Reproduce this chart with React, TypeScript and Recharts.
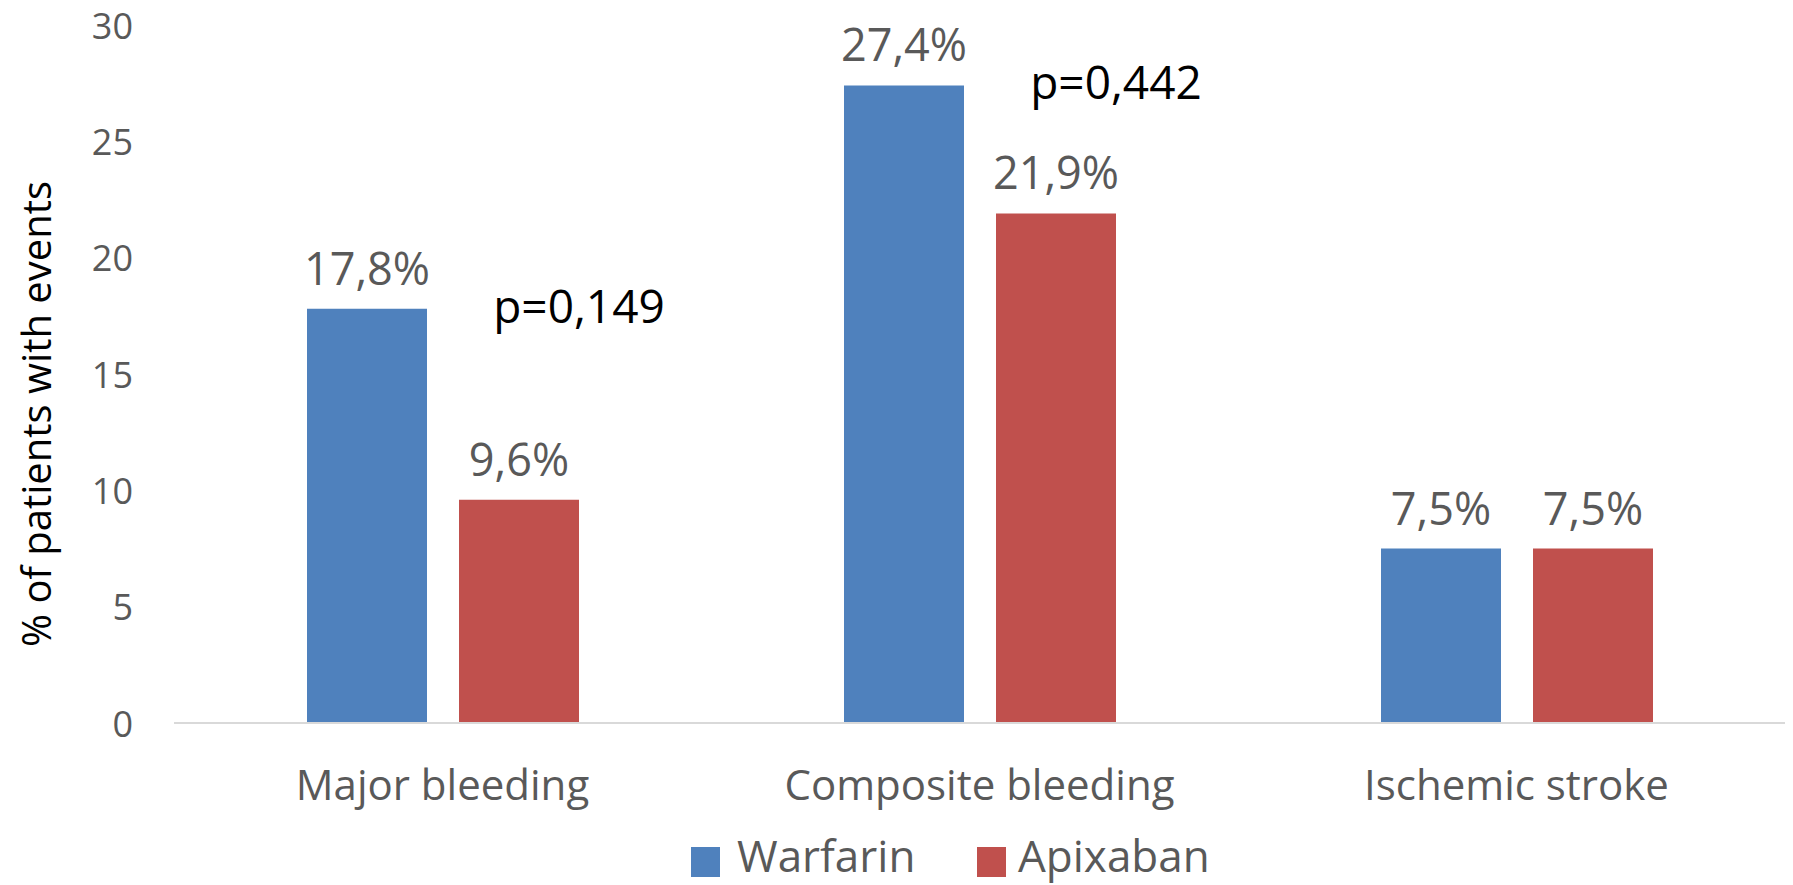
import React from 'react';
import { BarChart, Bar, XAxis, YAxis, Legend, LabelList } from 'recharts';

const categories = ['Major bleeding', 'Composite bleeding', 'Ischemic stroke'];
const warfarin = [17.8, 27.4, 7.5];
const apixaban = [9.6, 21.9, 7.5];
const pValues = ['p=0,149', 'p=0,442', ''];
const yTicks = [0, 5, 10, 15, 20, 25, 30];

const seriesNames = ['Warfarin', 'Apixaban'];
const colors = ['#4f81bd', '#c0504d'];

const data = categories.map((name, i) => ({
  name,
  warfarin: warfarin[i],
  apixaban: apixaban[i],
  p: pValues[i],
}));

const FONT = "'Open Sans', sans-serif";
const GRAY = '#595959';
const BAR_GAP = 32;

const fmt = (v: number) => v.toFixed(1).replace('.', ',') + '%';

const ValueLabel = (props: any) => {
  const { x, y, width, value } = props;
  return (
    <text
      x={x + width / 2}
      y={y - 24}
      textAnchor="middle"
      fontFamily={FONT}
      fontSize={45}
      fill={GRAY}
    >
      {fmt(Number(value))}
    </text>
  );
};

const PLabel = (props: any) => {
  const { x, y, width, value } = props;
  if (!value) return null;
  return (
    <text
      x={x + 2 * width + BAR_GAP}
      y={y + 14}
      textAnchor="middle"
      fontFamily={FONT}
      fontSize={46}
      fill="#000000"
    >
      {value}
    </text>
  );
};

const YTick = (props: any) => {
  const { x, y, payload } = props;
  return (
    <text x={x} y={y} dy="0.38em" textAnchor="end" fontFamily={FONT} fontSize={36} fill={GRAY}>
      {payload.value}
    </text>
  );
};

const XTick = (props: any) => {
  const { x, y, payload } = props;
  return (
    <text x={x} y={y + 77} textAnchor="middle" fontFamily={FONT} fontSize={42} fill={GRAY}>
      {payload.value}
    </text>
  );
};

const YTitle = () => (
  <text
    x={35}
    y={414}
    transform="rotate(-90 35 414)"
    textAnchor="middle"
    dominantBaseline="central"
    fontFamily={FONT}
    fontSize={40}
    fill="#000000"
  >
    % of patients with events
  </text>
);

const LegendContent = () => {
  const item = (i: number, sq: number, tx: number) => (
    <React.Fragment key={i}>
      <div
        style={{
          position: 'absolute',
          left: sq,
          top: 18,
          width: 29,
          height: 30,
          background: colors[i],
        }}
      />
      <div
        style={{
          position: 'absolute',
          left: tx,
          top: -4,
          height: 60,
          lineHeight: '60px',
          fontFamily: FONT,
          fontSize: 44,
          color: GRAY,
          whiteSpace: 'nowrap',
        }}
      >
        {seriesNames[i]}
      </div>
    </React.Fragment>
  );
  return (
    <div style={{ position: 'relative', width: 1793, height: 56 }}>
      {item(0, 691, 737)}
      {item(1, 977, 1018)}
    </div>
  );
};

export default function App() {
  return (
    <div style={{ position: 'absolute', left: 0, top: 0, width: 1793, height: 885, background: '#fff' }}>
      <BarChart
        width={1793}
        height={885}
        data={data}
        margin={{ top: 25, right: 8, bottom: 0, left: 0 }}
        barSize={120}
        barGap={BAR_GAP}
      >
        <XAxis
          dataKey="name"
          height={106}
          tickLine={false}
          tickSize={0}
          tickMargin={0}
          axisLine={{ stroke: '#d9d9d9', strokeWidth: 2 }}
          tick={<XTick />}
          interval={0}
        />
        <YAxis
          width={174}
          domain={[0, 30]}
          ticks={yTicks}
          axisLine={false}
          tickLine={false}
          tickSize={0}
          tickMargin={41}
          tick={<YTick />}
          label={<YTitle />}
        />
        <Legend
          verticalAlign="bottom"
          height={56}
          wrapperStyle={{ left: 0, width: 1793, height: 56 }}
          content={<LegendContent />}
        />
        <Bar dataKey="warfarin" name="Warfarin" fill={colors[0]} isAnimationActive={false}>
          <LabelList dataKey="warfarin" content={<ValueLabel />} />
          <LabelList dataKey="p" content={<PLabel />} />
        </Bar>
        <Bar dataKey="apixaban" name="Apixaban" fill={colors[1]} isAnimationActive={false}>
          <LabelList dataKey="apixaban" content={<ValueLabel />} />
        </Bar>
      </BarChart>
    </div>
  );
}
